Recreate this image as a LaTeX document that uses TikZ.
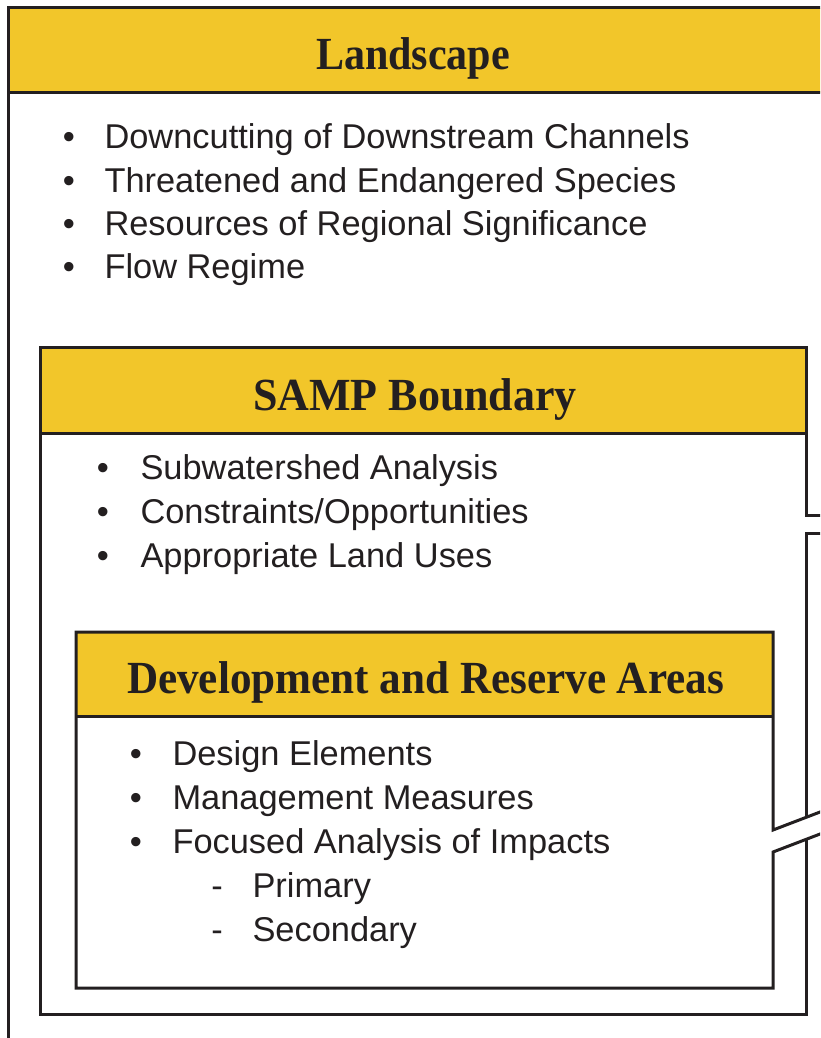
\documentclass[tikz,border=0pt]{standalone}
\usepackage{fontspec}
\usepackage{graphicx}
\setmainfont{Liberation Sans}
\newfontfamily\hdfont{Liberation Serif}
\definecolor{gold}{HTML}{F2C62A}
\definecolor{ink}{HTML}{231F20}
\newcommand\bodysz{\fontsize{34.4}{40}\selectfont}
\newcommand\hdsz{\hdfont\bfseries\fontsize{46}{50}\selectfont}
\begin{document}
\begin{tikzpicture}[x=1pt,y=-1pt,line width=3pt,
  frame/.style={draw=ink,line width=3pt},
  band/.style={fill=gold},
  item/.style={anchor=base west,inner sep=0pt,font=\bodysz,text=ink},
  bul/.style={anchor=base,inner sep=0pt,font=\bodysz,text=ink},
  head/.style={anchor=base,inner sep=0pt,font=\hdsz,text=ink}]
\useasboundingbox (0,0) rectangle (820,1038);
\clip (0,0) rectangle (820,1038);
% Landscape
\fill[band] (8,8) rectangle (830,93);
\draw[frame] (830,8) -- (8,8) -- (8,1050);
\draw[frame] (8,93) -- (830,93);
% SAMP Boundary
\fill[band] (40,347) rectangle (806,433);
\draw[frame] (40,433) -- (806,433);
\draw[frame] (830,515) -- (806,515) -- (806,347) -- (40,347) -- (40,1014) -- (806,1014) -- (806,839);
\draw[frame] (830,533) -- (806,533) -- (806,817);
% Development and Reserve Areas
\fill[band] (76,632) rectangle (773,716);
\draw[frame] (76,716) -- (773,716);
\draw[frame] (830,808.2) -- (773,830) -- (773,632) -- (76,632) -- (76,988) -- (773,988) -- (773,852) -- (830,830.2);
% headings
\node[head] (h1) at (413,70) {\resizebox{194pt}{\height}{Landscape}};
\node[head] (h2) at (415,410) {\resizebox{324pt}{\height}{SAMP Boundary}};
\node[head] (h3) at (425.5,693) {\resizebox{597pt}{\height}{Development and Reserve Areas}};
% Landscape items
\node[bul] (b11) at (69,149) {•};
\node[item] (t11) at (103,149) {Downcutting of Downstream Channels};
\node[bul] (b12) at (69,192) {•};
\node[item] (t12) at (103,192) {Threatened and Endangered Species};
\node[bul] (b13) at (69,235) {•};
\node[item] (t13) at (103,235) {Resources of Regional Significance};
\node[bul] (b14) at (69,278) {•};
\node[item] (t14) at (103,278) {Flow Regime};
% SAMP items
\node[bul] (b21) at (103,479) {•};
\node[item] (t21) at (139,479) {Subwatershed Analysis};
\node[bul] (b22) at (103,523) {•};
\node[item] (t22) at (139,523) {Constraints/Opportunities};
\node[bul] (b23) at (103,567) {•};
\node[item] (t23) at (139,567) {Appropriate Land Uses};
% Inner items
\node[bul] (b31) at (136,765) {•};
\node[item] (t31) at (171,765) {Design Elements};
\node[bul] (b32) at (136,809) {•};
\node[item] (t32) at (171,809) {Management Measures};
\node[bul] (b33) at (136,853) {•};
\node[item] (t33) at (171,853) {Focused Analysis of Impacts};
\node[bul] (d1) at (217,897) {-};
\node[item] (t34) at (251,897) {Primary};
\node[bul] (d2) at (217,941) {-};
\node[item] (t35) at (251,941) {Secondary};
\end{tikzpicture}
\end{document}
